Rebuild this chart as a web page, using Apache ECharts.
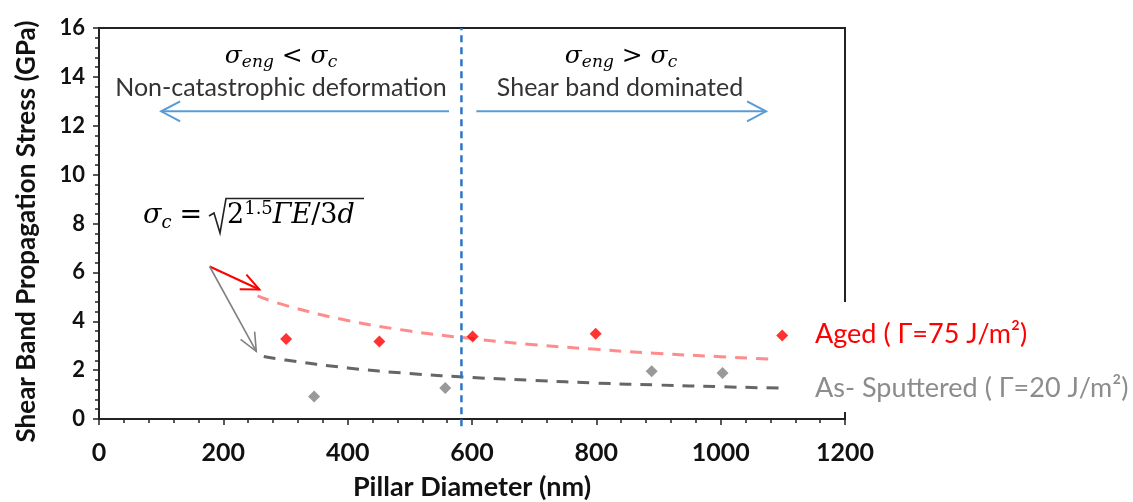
<!DOCTYPE html>
<html><head><meta charset="utf-8">
<script src="https://cdn.jsdelivr.net/npm/echarts@6/dist/echarts.min.js"></script>
<style>html,body{margin:0;padding:0;background:#fff}#c{width:1133px;height:502px}</style>
</head><body><div id="c"></div>
<script>
// ---- data ----
const xTickValues = [0, 200, 400, 600, 800, 1000, 1200];
const yTickValues = [0, 2, 4, 6, 8, 10, 12, 14, 16];
const agedName = 'Aged ( Γ=75 J/m²)';
const sputName = 'As- Sputtered ( Γ=20 J/m²)';
const agedDiameter = [301, 451, 601, 799, 1099];
const agedStress = [3.27, 3.17, 3.38, 3.49, 3.42];
const sputDiameter = [346, 557, 889, 1003];
const sputStress = [0.92, 1.27, 1.95, 1.88];
const agedFitDiameter = [255, 300, 400, 500, 600, 700, 800, 900, 1000, 1080];
const agedFitStress = [5.04, 4.65, 4.03, 3.60, 3.29, 3.04, 2.85, 2.68, 2.55, 2.45];
const sputFitDiameter = [265, 300, 400, 500, 600, 700, 800, 900, 1000, 1100];
const sputFitStress = [2.56, 2.41, 2.09, 1.86, 1.70, 1.58, 1.47, 1.39, 1.32, 1.26];
const criticalDiameter = 583;
const criticalSpan = [-0.3, 16];

const zip = (a, b) => a.map((v, i) => [v, b[i]]);
const chart = echarts.init(document.getElementById('c'), null, {renderer: 'canvas'});
const LATO = 'Lato, "Open Sans", sans-serif';
const SERIF = '"DejaVu Serif", "Liberation Serif", serif';

const option = {
  backgroundColor: '#fff',
  animation: false,
  grid: {left: 99, right: 288, top: 28, bottom: 83, show: true, borderColor: '#222', borderWidth: 2,
    backgroundColor: 'transparent', containLabel: false, outerBoundsMode: 'none'},
  xAxis: {
    type: 'value', min: 0, max: 1200, interval: 200,
    name: 'Pillar Diameter (nm)', nameLocation: 'middle', nameGap: 55,
    nameTextStyle: {fontFamily: LATO, fontWeight: 'bold', fontSize: 27, color: '#111'},
    axisLine: {show: true, lineStyle: {color: '#222', width: 2}},
    axisTick: {show: true, inside: false, length: 6, lineStyle: {color: '#222', width: 1.5}},
    minorTick: {show: true, splitNumber: 5, length: 4, lineStyle: {color: '#222', width: 1.5}},
    splitLine: {show: false},
    axisLabel: {fontFamily: LATO, fontWeight: 'bold', fontSize: 25, color: '#111', margin: 21,
      formatter: v => xTickValues.includes(v) ? String(v) : ''}
  },
  yAxis: {
    type: 'value', min: 0, max: 16, interval: 2,
    name: 'Shear Band Propagation Stress (GPa)', nameLocation: 'middle', nameGap: 59, nameRotate: 90,
    nameTextStyle: {fontFamily: LATO, fontWeight: 'bold', fontSize: 26, color: '#111', padding: [0, 16, 0, 0]},
    axisLine: {show: true, lineStyle: {color: '#222', width: 2}},
    axisTick: {show: true, inside: false, length: 6, lineStyle: {color: '#222', width: 1.5}},
    minorTick: {show: true, splitNumber: 5, length: 4, lineStyle: {color: '#222', width: 1.5}},
    splitLine: {show: false},
    axisLabel: {fontFamily: LATO, fontWeight: 'bold', fontSize: 22, color: '#111', margin: 14,
      formatter: v => yTickValues.includes(v) ? String(v) : ''}
  },
  legend: {
    orient: 'vertical', left: 810, top: 302,
    padding: [18, 20, 10, 0], itemGap: 26, itemWidth: 0, itemHeight: 0,
    backgroundColor: '#fff', icon: 'none', selectedMode: false,
    textStyle: {fontFamily: LATO, fontSize: 27, lineHeight: 28},
    data: [
      {name: agedName, icon: 'none', textStyle: {color: '#ff0000'}},
      {name: sputName, icon: 'none', textStyle: {color: '#8c8c8c'}}
    ]
  },
  series: [
    {name: 'Aged fit', type: 'line', data: zip(agedFitDiameter, agedFitStress), smooth: true, showSymbol: false,
      lineStyle: {color: '#ff8c8c', width: 3, type: [12, 9]}, z: 2},
    {name: 'Sputtered fit', type: 'line', data: zip(sputFitDiameter, sputFitStress), smooth: true, showSymbol: false,
      lineStyle: {color: '#666666', width: 3, type: [12, 9]}, z: 2},
    {name: agedName, type: 'scatter', data: zip(agedDiameter, agedStress), symbol: 'diamond', symbolSize: 12,
      itemStyle: {color: '#ff0000'}, z: 4},
    {name: sputName, type: 'scatter', data: zip(sputDiameter, sputStress), symbol: 'diamond', symbolSize: 12,
      itemStyle: {color: '#7f7f7f'}, z: 4},
    {name: 'critical', type: 'line', data: criticalSpan.map(s => [criticalDiameter, s]), showSymbol: false, clip: false,
      lineStyle: {color: '#2e75c6', width: 2.5, type: [7, 5]}, z: 5}
  ]
};
chart.setOption(option);

// ---- annotations (placed through the chart's scales) ----
const arrowDefs = [
  {from: [563, 12.59], to: [100, 12.59], color: '#5b9bd5', w: 2, head: 19, spread: 10},
  {from: [607, 12.59], to: [1073, 12.59], color: '#5b9bd5', w: 2, head: 19, spread: 10},
  {from: [178, 6.24], to: [258, 5.30], color: '#ff0000', w: 2, head: 18, spread: 8},
  {from: [178, 6.24], to: [253, 2.77], color: '#808080', w: 1.6, head: 18, spread: 8}
];
const g = [];
arrowDefs.forEach(a => {
  const p0 = chart.convertToPixel({gridIndex: 0}, a.from);
  const p1 = chart.convertToPixel({gridIndex: 0}, a.to);
  const dx = p1[0] - p0[0], dy = p1[1] - p0[1];
  const len = Math.hypot(dx, dy), ux = dx / len, uy = dy / len;
  const bx = p1[0] - ux * a.head, by = p1[1] - uy * a.head;
  const nx = -uy, ny = ux;
  g.push({type: 'polyline', z: 10, shape: {points: [p0, p1]}, style: {stroke: a.color, lineWidth: a.w, fill: null}});
  g.push({type: 'polyline', z: 10, shape: {points: [[bx + nx * a.spread, by + ny * a.spread], p1, [bx - nx * a.spread, by - ny * a.spread]]},
    style: {stroke: a.color, lineWidth: a.w, fill: null}});
});
const mathRich = {
  i: {fontFamily: SERIF, fontStyle: 'italic', fontSize: 25, color: '#333', lineHeight: 30, verticalAlign: 'middle'},
  n: {fontFamily: SERIF, fontSize: 25, color: '#333', lineHeight: 30, verticalAlign: 'middle'},
  s: {fontFamily: SERIF, fontStyle: 'italic', fontSize: 17, color: '#333', lineHeight: 14, verticalAlign: 'bottom'},
  p: {fontFamily: SERIF, fontSize: 17, color: '#333', lineHeight: 14, verticalAlign: 'top'}
};
g.push({type: 'text', z: 10, x: 281, y: 56, style: {text: '{i|σ}{s|eng}{n| < }{i|σ}{s|c}', rich: mathRich, align: 'center', verticalAlign: 'middle'}});
g.push({type: 'text', z: 10, x: 621, y: 56, style: {text: '{i|σ}{s|eng}{n| > }{i|σ}{s|c}', rich: mathRich, align: 'center', verticalAlign: 'middle'}});
g.push({type: 'text', z: 10, x: 281, y: 88, style: {text: 'Non-catastrophic deformation', font: '25px ' + LATO, fill: '#333', align: 'center', verticalAlign: 'middle'}});
g.push({type: 'text', z: 10, x: 620, y: 88, style: {text: 'Shear band dominated', font: '25px ' + LATO, fill: '#333', align: 'center', verticalAlign: 'middle'}});
const eqRich = {
  i: {fontFamily: SERIF, fontStyle: 'italic', fontSize: 27, color: '#222', lineHeight: 32, verticalAlign: 'middle'},
  n: {fontFamily: SERIF, fontSize: 27, color: '#222', lineHeight: 32, verticalAlign: 'middle'},
  s: {fontFamily: SERIF, fontStyle: 'italic', fontSize: 18, color: '#222', lineHeight: 14, verticalAlign: 'bottom'},
  p: {fontFamily: SERIF, fontSize: 18, color: '#222', lineHeight: 14, verticalAlign: 'top'}
};
g.push({type: 'text', z: 10, x: 143, y: 216, style: {text: '{i|σ}{s|c}{n|=}', rich: {
  i: eqRich.i, s: Object.assign({}, eqRich.s, {padding: [0, 8, 0, 0]}), n: eqRich.n
}, align: 'left', verticalAlign: 'middle'}});
g.push({type: 'text', z: 10, x: 227, y: 216, style: {text: '{n|2}{p|1.5}{i|ΓE}{n|/3}{i|d}', rich: eqRich, align: 'left', verticalAlign: 'middle'}});
g.push({type: 'polyline', z: 10, shape: {points: [[209, 216], [214, 213], [220, 233], [226, 198.5], [364, 198.5]]},
  style: {stroke: '#222', lineWidth: 1.6, fill: null}});
chart.setOption({graphic: g});
</script>
</body></html>
